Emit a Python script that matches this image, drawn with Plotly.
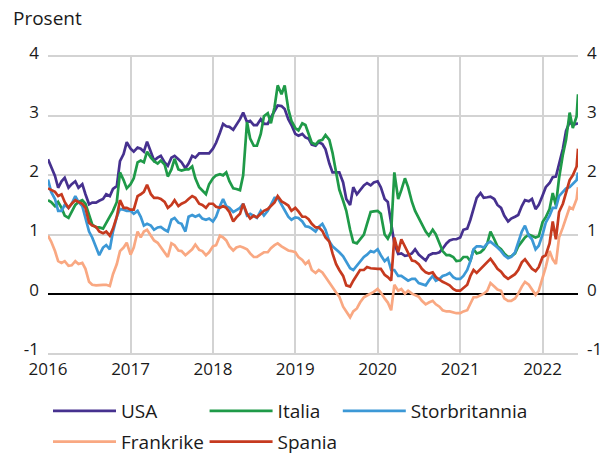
import plotly.graph_objects as go
from datetime import date

# ---- dates: 1st and 15th of each month, Jan 2016 - Jun 2022 ----
dates = []
for y in range(2016, 2023):
    for m in range(1, 13):
        for d in (1, 15):
            if y == 2022 and (m > 6 or (m == 6 and d == 15)):
                continue
            dates.append(date(y, m, d).isoformat())
dates.append("2022-06-07")

# ---- 10-year government bond yields, percent ----
usa = [
    2.27, 2.13, 1.99, 1.79, 1.90, 1.96, 1.79, 1.85, 1.90, 1.79, 1.85, 1.68,
    1.51, 1.54, 1.54, 1.57, 1.60, 1.68, 1.65, 1.77, 1.82, 2.24, 2.36, 2.56,
    2.45, 2.40, 2.47, 2.45, 2.40, 2.57, 2.40, 2.25, 2.30, 2.33, 2.22, 2.16,
    2.30, 2.33, 2.27, 2.22, 2.12, 2.20, 2.33, 2.30, 2.37, 2.37, 2.38, 2.37,
    2.45, 2.55, 2.72, 2.87, 2.83, 2.82, 2.77, 2.85, 2.95, 3.06, 2.90, 2.92,
    2.85, 2.85, 2.95, 2.87, 2.87, 2.98, 3.08, 3.18, 3.17, 3.12, 2.95, 2.85,
    2.70, 2.67, 2.70, 2.64, 2.62, 2.52, 2.50, 2.56, 2.53, 2.44, 2.20, 2.05,
    2.05, 2.05, 1.88, 1.60, 1.50, 1.80, 1.68, 1.75, 1.83, 1.87, 1.83, 1.88,
    1.90, 1.80, 1.60, 1.55, 1.15, 0.85, 0.67, 0.68, 0.64, 0.65, 0.68, 0.75,
    0.66, 0.62, 0.56, 0.65, 0.68, 0.68, 0.70, 0.76, 0.85, 0.90, 0.92, 0.92,
    0.95, 1.08, 1.10, 1.25, 1.45, 1.62, 1.70, 1.62, 1.63, 1.64, 1.60, 1.50,
    1.45, 1.32, 1.22, 1.27, 1.30, 1.33, 1.48, 1.58, 1.56, 1.60, 1.43, 1.50,
    1.66, 1.80, 1.87, 1.97, 1.98, 2.20, 2.45, 2.75, 2.90, 2.85, 2.87, 2.88,
]
italia = [
    1.58, 1.55, 1.48, 1.55, 1.45, 1.32, 1.28, 1.38, 1.50, 1.55, 1.58, 1.52,
    1.35, 1.17, 1.12, 1.12, 1.10, 1.20, 1.30, 1.40, 1.55, 2.05, 1.92, 1.78,
    1.85, 1.95, 2.22, 2.25, 2.22, 2.40, 2.30, 2.24, 2.20, 2.25, 2.18, 1.98,
    2.10, 2.28, 2.10, 2.08, 2.10, 2.10, 2.15, 1.95, 1.80, 1.75, 1.68, 1.85,
    1.95, 2.00, 2.02, 2.00, 2.05, 1.90, 1.78, 1.77, 1.75, 2.00, 2.90, 2.62,
    2.50, 2.50, 2.70, 3.00, 3.05, 2.88, 3.15, 3.52, 3.37, 3.52, 3.12, 2.92,
    2.80, 2.76, 2.88, 2.85, 2.70, 2.55, 2.52, 2.58, 2.60, 2.68, 2.60, 2.38,
    2.05, 1.76, 1.57, 1.40, 1.08, 0.87, 0.85, 0.92, 1.00, 1.18, 1.38, 1.39,
    1.40, 1.35, 1.00, 0.93, 1.05, 2.05, 1.60, 1.75, 1.95, 1.80, 1.55, 1.40,
    1.28, 1.20, 1.05, 0.98, 1.08, 1.00, 0.85, 0.72, 0.65, 0.65, 0.62, 0.55,
    0.56, 0.62, 0.62, 0.55, 0.75, 0.68, 0.70, 0.75, 0.85, 1.05, 0.92, 0.80,
    0.75, 0.68, 0.62, 0.63, 0.68, 0.80, 0.88, 0.95, 1.00, 0.98, 0.95, 0.97,
    1.21, 1.29, 1.43, 1.70, 1.49, 1.95, 2.35, 2.60, 3.06, 2.80, 3.00, 3.37,
]
storbritannia = [
    1.93, 1.72, 1.60, 1.40, 1.40, 1.50, 1.45, 1.52, 1.65, 1.55, 1.48, 1.30,
    1.05, 0.95, 0.80, 0.65, 0.78, 0.82, 0.75, 1.05, 1.30, 1.43, 1.42, 1.40,
    1.40, 1.35, 1.40, 1.30, 1.15, 1.18, 1.15, 1.08, 1.12, 1.13, 1.08, 1.05,
    1.25, 1.28, 1.20, 1.18, 1.05, 1.30, 1.33, 1.30, 1.33, 1.27, 1.25, 1.27,
    1.22, 1.30, 1.48, 1.60, 1.48, 1.45, 1.38, 1.42, 1.45, 1.52, 1.32, 1.35,
    1.32, 1.28, 1.40, 1.32, 1.40, 1.50, 1.62, 1.62, 1.50, 1.42, 1.30, 1.25,
    1.29, 1.28, 1.22, 1.14, 1.13, 1.10, 1.05, 1.13, 1.18, 1.08, 0.88, 0.80,
    0.75, 0.70, 0.63, 0.53, 0.43, 0.40, 0.48, 0.55, 0.62, 0.66, 0.72, 0.70,
    0.75, 0.65, 0.55, 0.60, 0.40, 0.40, 0.30, 0.30, 0.25, 0.22, 0.25, 0.25,
    0.18, 0.16, 0.14, 0.22, 0.30, 0.22, 0.25, 0.30, 0.32, 0.35, 0.28, 0.25,
    0.25, 0.30, 0.40, 0.55, 0.75, 0.80, 0.80, 0.78, 0.85, 0.88, 0.83, 0.78,
    0.72, 0.65, 0.60, 0.62, 0.70, 0.88, 1.05, 1.15, 0.98, 0.92, 0.75, 0.81,
    1.00, 1.20, 1.32, 1.45, 1.45, 1.65, 1.72, 1.78, 1.80, 1.85, 1.92, 2.05,
]
frankrike = [
    0.98, 0.88, 0.72, 0.55, 0.52, 0.55, 0.47, 0.48, 0.55, 0.50, 0.52, 0.42,
    0.20, 0.15, 0.14, 0.15, 0.15, 0.15, 0.13, 0.33, 0.50, 0.72, 0.78, 0.86,
    0.66, 0.78, 1.05, 0.95, 1.05, 1.08, 0.98, 0.90, 0.86, 0.78, 0.70, 0.62,
    0.85, 0.82, 0.73, 0.72, 0.65, 0.70, 0.75, 0.83, 0.74, 0.72, 0.65, 0.70,
    0.80, 0.82, 0.98, 0.95, 0.90, 0.80, 0.73, 0.78, 0.80, 0.78, 0.75, 0.68,
    0.62, 0.62, 0.67, 0.70, 0.70, 0.77, 0.82, 0.85, 0.80, 0.76, 0.73, 0.72,
    0.70, 0.62, 0.57, 0.50, 0.55, 0.40, 0.35, 0.40, 0.36, 0.28, 0.18, 0.10,
    0.02, -0.05, -0.22, -0.30, -0.40, -0.30, -0.25, -0.15, -0.06, -0.03, 0.00, 0.03,
    0.08, 0.02, -0.08, -0.15, -0.28, 0.15, 0.05, 0.08, 0.00, 0.05, 0.00, -0.02,
    -0.05, -0.12, -0.18, -0.15, -0.12, -0.18, -0.22, -0.28, -0.30, -0.30, -0.32, -0.33,
    -0.33, -0.30, -0.28, -0.18, -0.06, -0.06, -0.03, 0.00, 0.05, 0.18, 0.12, 0.07,
    0.05, -0.08, -0.12, -0.12, -0.08, 0.00, 0.12, 0.20, 0.15, 0.08, -0.02, 0.05,
    0.25, 0.45, 0.72, 0.58, 0.50, 0.95, 1.12, 1.28, 1.46, 1.43, 1.60, 1.80,
]
spania = [
    1.78, 1.75, 1.72, 1.65, 1.68, 1.55, 1.45, 1.52, 1.58, 1.55, 1.52, 1.45,
    1.20, 1.15, 1.13, 1.05, 1.02, 1.05, 0.98, 1.10, 1.30, 1.58, 1.45, 1.45,
    1.42, 1.42, 1.65, 1.68, 1.72, 1.84, 1.68, 1.62, 1.62, 1.60, 1.55, 1.45,
    1.50, 1.58, 1.48, 1.52, 1.55, 1.60, 1.65, 1.62, 1.52, 1.50, 1.45, 1.52,
    1.52, 1.47, 1.45, 1.48, 1.45, 1.38, 1.22, 1.29, 1.35, 1.52, 1.35, 1.27,
    1.32, 1.29, 1.35, 1.40, 1.43, 1.49, 1.54, 1.65, 1.56, 1.53, 1.49, 1.40,
    1.45, 1.39, 1.30, 1.30, 1.26, 1.18, 1.12, 1.12, 1.06, 0.95, 0.88, 0.68,
    0.50, 0.40, 0.30, 0.14, 0.12, 0.22, 0.32, 0.40, 0.40, 0.45, 0.43, 0.42,
    0.42, 0.42, 0.32, 0.28, 0.22, 0.95, 0.70, 0.92, 0.80, 0.68, 0.56, 0.55,
    0.50, 0.42, 0.36, 0.34, 0.36, 0.28, 0.23, 0.20, 0.17, 0.14, 0.08, 0.05,
    0.05, 0.10, 0.15, 0.30, 0.40, 0.35, 0.42, 0.48, 0.53, 0.59, 0.50, 0.42,
    0.37, 0.30, 0.25, 0.28, 0.33, 0.40, 0.53, 0.58, 0.50, 0.42, 0.38, 0.45,
    0.62, 0.65, 0.85, 1.22, 0.92, 1.38, 1.52, 1.70, 1.92, 2.00, 2.15, 2.45,
]

tick_vals = [-1, 0, 1, 2, 3, 4]
tick_text = ["-1", "0", "1", "2", "3", "4"]

series = [
    ("USA", usa, "#46318f", "legend", "a", "y"),
    ("Italia", italia, "#1f9a48", "legend2", "b", "y"),
    ("Storbritannia", storbritannia, "#3c98d6", "legend3", "c", "y"),
    ("Frankrike", frankrike, "#f9a882", "legend", "d", "y"),
    ("Spania", spania, "#c63a1f", "legend2", "e", "y2"),
]

fig = go.Figure()
for name, vals, col, leg, grp, yax in series:
    assert len(vals) == len(dates), (name, len(vals), len(dates))
    fig.add_trace(go.Scatter(
        x=dates, y=vals, mode="lines", name=name,
        line=dict(color=col, width=2.7),
        legend=leg, legendgroup=grp, yaxis=yax,
    ))

grid = "#d3d3d3"
OFF = 8                       # page offset of the figure inside the window
W, H = 606, 447
L, R, T, B = 40, 21, 49, 101
pw, ph = W - L - R, H - T - B


def px_x(p):
    return (p - OFF - L) / pw


def px_y(p):
    return (H - B - (p - OFF)) / ph


def cy(p):
    return (H - (p - OFF)) / H


legfont = dict(family="Open Sans", size=19, color="#1a1a1a")
common_leg = dict(orientation="v", yanchor="top", xanchor="left",
                  yref="container", y=cy(392), font=legfont, tracegroupgap=3,
                  itemwidth=63, bgcolor="rgba(0,0,0,0)")

yaxis_common = dict(
    range=[-1, 4], tickmode="array", tickvals=tick_vals, ticktext=tick_text,
    ticks="", showline=False, ticklabelstandoff=8, ticklabelshift=-4,
    tickfont=dict(family="Open Sans", size=17, color="#1a1a1a"),
)

fig.update_layout(
    width=W, height=H,
    margin=dict(l=L, r=R, t=T, b=B),
    paper_bgcolor="white", plot_bgcolor="white",
    font=dict(family="Open Sans", size=17, color="#1a1a1a"),
    xaxis=dict(
        type="date", range=["2016-01-01", "2022-06-07"],
        dtick="M12", tick0="2016-01-01", tickformat="%Y",
        showgrid=True, gridcolor=grid, gridwidth=1.5,
        showline=True, linecolor=grid, linewidth=1.5, mirror=True,
        ticks="", zeroline=False,
        tickfont=dict(family="Open Sans", size=17, color="#1a1a1a"),
    ),
    yaxis=dict(
        showgrid=True, gridcolor=grid, gridwidth=1.5,
        zeroline=True, zerolinecolor="black", zerolinewidth=1.5,
        **yaxis_common,
    ),
    yaxis2=dict(
        overlaying="y", side="right", showgrid=False, zeroline=False,
        **yaxis_common,
    ),
    legend=dict(x=px_x(48), **common_leg),
    legend2=dict(x=px_x(209), **common_leg),
    legend3=dict(x=px_x(346), **common_leg),
    annotations=[dict(
        text="Prosent", xref="paper", yref="paper",
        x=px_x(10), y=px_y(18), xanchor="left", yanchor="middle",
        showarrow=False, font=dict(family="Open Sans", size=19, color="#1a1a1a"),
    )],
)

fig.write_html("out.html")
